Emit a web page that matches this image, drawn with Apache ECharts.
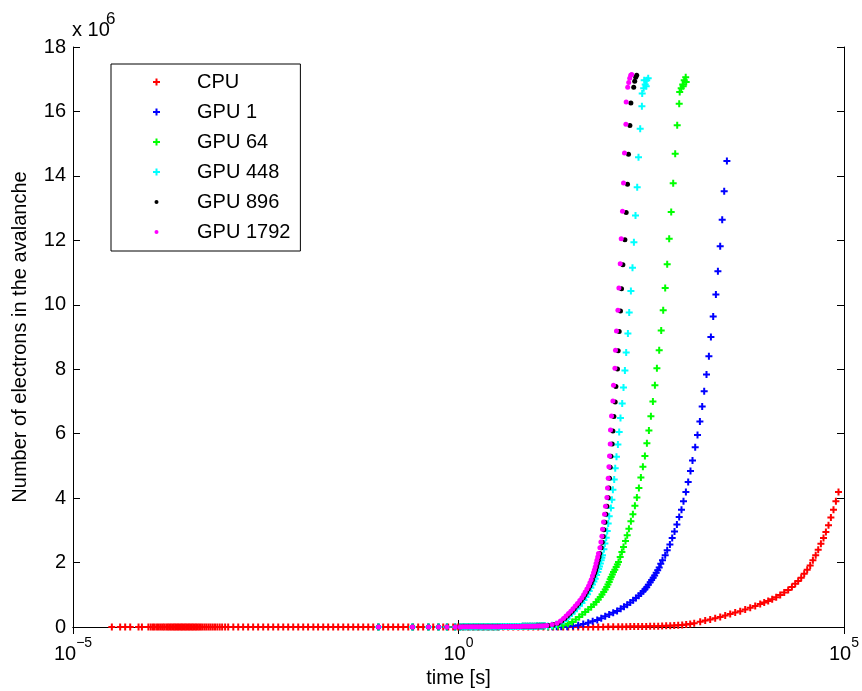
<!DOCTYPE html>
<html>
<head>
<meta charset="utf-8">
<script src="https://cdn.jsdelivr.net/npm/echarts@6.0.0/dist/echarts.min.js"></script>
<style>html,body{margin:0;padding:0;background:#fff}#chart{width:862px;height:691px}</style>
</head>
<body>
<div id="chart"></div>
<script>
// ---- data: [time in s, electrons in millions] ----
const seriesNames = ['CPU', 'GPU 1', 'GPU 64', 'GPU 448', 'GPU 896', 'GPU 1792'];
const yTicks = [0, 2, 4, 6, 8, 10, 12, 14, 16, 18];
const xTickLabels = {'-5': '10^-5', '0': '10^0', '5': '10^5'};

const cpu = [
[3.19e-5,0],[4.09e-5,0],[4.75e-5,0],[5.52e-5,0],[7.08e-5,0],[7.83e-5,0],
[9.5e-5,0],[1.02e-4,0],[1.09e-4,0],[1.15e-4,0],[1.23e-4,0],[1.3e-4,0],[1.38e-4,0],[1.46e-4,0],[1.53e-4,0],[1.62e-4,0],
[1.7e-4,0],[1.78e-4,0],[1.86e-4,0],[1.95e-4,0],[2.03e-4,0],[2.12e-4,0],[2.2e-4,0],[2.3e-4,0],[2.4e-4,0],[2.5e-4,0],
[2.6e-4,0],[2.71e-4,0],[2.82e-4,0],[2.94e-4,0],[3.06e-4,0],[3.19e-4,0],[3.33e-4,0],[3.47e-4,0],[3.62e-4,0],[3.78e-4,0],
[3.95e-4,0],[4.13e-4,0],[4.33e-4,0],[4.55e-4,0],[4.8e-4,0],[5.1e-4,0],[5.4e-4,0],[5.75e-4,0],[6.1e-4,0],[6.5e-4,0],
[6.95e-4,0],[7.45e-4,0],[8.0e-4,0],[8.6e-4,0],[9.4e-4,0],
[1.03e-3,0],[1.2e-3,0],[1.39e-3,0],[1.61e-3,0],[1.87e-3,0],[2.17e-3,0],[2.52e-3,0],[2.93e-3,0],[3.4e-3,0],[3.95e-3,0],
[4.59e-3,0],[5.33e-3,0],[6.18e-3,0],[7.18e-3,0],[8.34e-3,0],[9.68e-3,0],[0.0112,0],[0.0131,0],[0.0151,0],[0.0176,0],
[0.0204,0],[0.0237,0],[0.0275,0],[0.032,0],[0.0371,0],[0.0431,0],[0.05,0],[0.0581,0],[0.0675,0],[0.0783,0],
[0.0909,0],[0.1055,0],[0.1225,0],[0.142,0],[0.165,0],[0.192,0],[0.223,0],[0.258,0],[0.3,0],[0.348,0],
[0.405,0],[0.47,0],[0.546,0],[0.634,0],[0.735,0],[0.854,0],[0.991,0],[1.15,0],[1.34,0],[1.55,0],
[1.8,0],[2.09,0],[2.43,0],[2.82,0],[3.27,0],[3.8,0],[4.41,0],[5.12,0],[5.95,0],[6.91,0],
[8.02,0],[9.31,0],[10.8,0],[12.6,0],[14.6,0],[16.9,0],[19.6,0],[22.8,0],[26.5,0],[30.7,0],
[35.7,0],[41.4,0],[48.1,0],[55.8,0],[64.9,0],[75.3,0.003],[87.5,0.004],[101.6,0.005],[118,0.007],[133,0.008],
[150,0.01],[169,0.012],[190,0.013],[214,0.015],[241,0.017],[272,0.019],[306,0.02],[345,0.023],[389,0.027],[438,0.03],
[494,0.035],[557,0.04],[628,0.047],[707,0.055],[797,0.065],[898,0.075],[1012,0.09],[1141,0.12],
[1364,0.16],[1584,0.20],[1839,0.23],[2135,0.27],[2479,0.31],[2878,0.36],[3342,0.40],[3880,0.45],[4505,0.49],[5229,0.54],
[6073,0.60],[7052,0.65],[8187,0.71],[9226,0.76],[10390,0.81],[11710,0.86],[13200,0.92],[14880,0.99],[16770,1.07],[18890,1.15],
[21100,1.24],[23290,1.34],[25470,1.43],[27860,1.53],[30470,1.65],[33320,1.78],[36440,1.91],[39510,2.07],[42950,2.23],[46290,2.40],
[50170,2.58],[54230,2.76],[58240,2.95],[62950,3.16],[67610,3.40],[73090,3.64],[78520,3.90],[84870,4.19]
];

// early points common to every GPU run
const gpuStart = [
[0.0917,0],[0.253,0],[0.408,0],[0.551,0],[0.707,0],[0.906,0.002],[1.05,0.003],[1.13,0.004],[1.22,0.004],[1.31,0.005],
[1.41,0.005],[1.52,0.006],[1.63,0.006],[1.75,0.007],[1.88,0.007],[2.02,0.008],[2.17,0.008],[2.33,0.009],[2.5,0.009],[2.69,0.01],
[2.89,0.01],[3.1,0.011],[3.33,0.011],[3.58,0.012],[3.85,0.012],[4.13,0.013],[4.44,0.014],[4.77,0.015],[5.12,0.016],[5.5,0.017],
[5.91,0.018],[6.35,0.019],[6.82,0.02],[7.33,0.021],[7.87,0.022],[8.45,0.023],[9.08,0.025],[9.75,0.027],[10.5,0.029],[11.3,0.031],
[12.1,0.034],[13.0,0.037]
];

const gpu1 = [
[14.5,0.005],[16.5,0.007],[18.8,0.008],[21.5,0.009],
[25.7,0.01],[30.5,0.03],[35.7,0.053],[41.5,0.09],[48.1,0.13],[55,0.175],[63.0,0.22],[71,0.275],[79.9,0.33],[90,0.385],
[101.5,0.44],[114,0.50],[127.0,0.565],[140,0.63],[154.2,0.69],[169,0.76],[184.5,0.83],[200,0.90],[217.4,0.97],[232,1.04],
[248.6,1.11],[262,1.17],[276.1,1.23],[290,1.31],[306.5,1.39],[320,1.46],[335.3,1.53],[350,1.60],[366.6,1.68],[383,1.76],
[401.0,1.85],[420,1.96],[442.5,2.07],[479.7,2.23],[509.2,2.38],[552.0,2.56],[591.2,2.76],[633.5,2.96],[680.4,3.18],[728.8,3.41],
[780.5,3.64],[828.4,3.90],[890,4.19],[953,4.50],[1021,4.84],[1084,5.17],[1175,5.58],[1259,5.96],[1352,6.38],[1448,6.84],
[1537,7.32],[1647,7.84],[1769,8.40],[1878,9.00],[2012,9.64],[2180,10.32],[2315,11.04],[2479,11.82],[2632,12.64],[2794,13.52],
[3028,14.46]
];

const gpu64 = [
[14.5,0.01],[16.8,0.02],
[19.5,0.03],[22.8,0.053],[26.2,0.10],[29.8,0.155],[33.2,0.23],[36.8,0.31],[40.3,0.39],[44.0,0.466],[48.2,0.54],[52.6,0.62],
[56.8,0.70],[61.1,0.776],[65.0,0.85],[68.9,0.93],[72.6,1.01],[76.4,1.086],[80.0,1.16],[83.6,1.24],[86.8,1.32],[90.1,1.40],
[92.8,1.48],[95.6,1.55],[99.0,1.63],[102.4,1.71],[106.5,1.78],[111.0,1.86],[115.0,1.94],
[118.9,2.02],[125.1,2.17],[131.6,2.33],[138.1,2.48],[146.6,2.67],[154.2,2.85],[162.3,3.05],[172.2,3.28],[182.8,3.50],[194.1,3.76],
[206.0,4.02],[218.7,4.31],[232.1,4.64],[246.4,4.97],[261.6,5.31],[277.7,5.70],[294.9,6.10],[313.0,6.54],[332.3,7.00],[352.7,7.50],
[374.4,8.03],[401.0,8.59],[425.7,9.20],[451.9,9.83],[479.7,10.52],[509.2,11.26],[540.5,12.05],[573.9,12.88],[609.1,13.77],[646.6,14.69],
[686.6,15.57],[728.8,16.24],
[739.6,16.60],[773.6,16.72],[809,16.84],[821,16.78],[846,16.97],[885,17.06],[898,16.91]
];

const gpu448 = [
[14.4,0.03],
[16.3,0.053],[18.5,0.085],[20.8,0.124],[23.1,0.19],[25.5,0.26],[27.5,0.34],[29.6,0.416],[31.9,0.49],[34.3,0.571],[37.0,0.66],
[39.9,0.745],[42.4,0.84],[44.9,0.93],[47.2,1.02],[49.6,1.12],[52.1,1.22],[54.7,1.32],[57.0,1.41],[59.3,1.50],[61.8,1.61],
[64.3,1.71],[65.8,1.80],[67.4,1.88],[69.1,1.97],[70.9,2.07],[72.3,2.15],
[73.8,2.23],[76.9,2.41],[79.2,2.59],[82.4,2.77],[84.9,2.98],[87.4,3.21],[90.1,3.44],[94.8,3.69],[97.6,3.95],[100.6,4.26],
[104.6,4.58],[107.8,4.93],[112.0,5.28],[116.8,5.66],[121.4,6.05],[126.2,6.49],[132.8,6.94],[138.1,7.43],[144.0,7.96],[149.6,8.52],
[157.5,9.11],[163.7,9.76],[172.2,10.43],[180.6,11.15],[188.4,11.94],[197.6,12.77],[207.9,13.65],[216.1,14.58],[227.3,15.46],[239.2,16.16],
[241.3,16.56],[252.4,16.72],[256.2,16.97],[264.0,16.84],[272.0,16.78],[276.1,16.97],[288.7,17.03]
];

const gpu896 = [
[14.6,0.05],[17.1,0.08],[19.7,0.12],[21.8,0.19],[23.9,0.26],[25.8,0.34],[27.8,0.42],[29.7,0.49],[31.7,0.57],[34.0,0.65],
[36.3,0.73],[38.9,0.82],[41.5,0.91],[43.7,1.00],[45.8,1.09],[48.2,1.18],[50.5,1.27],[52.6,1.37],[54.7,1.47],[56.7,1.58],
[58.7,1.68],[60.1,1.77],[61.7,1.86],[63.2,1.97],[64.9,2.07],[66.5,2.17],[68.0,2.28],
[70.9,2.46],[73.1,2.63],[75.3,2.81],[76.9,3.02],[79.2,3.25],[81.6,3.50],[84.1,3.75],[87.4,4.01],[89.3,4.31],[90.9,4.62],
[92.8,4.96],[94.8,5.30],[98.5,5.68],[100.6,6.08],[103.6,6.53],[107.8,6.98],[110.0,7.46],[115.4,8.01],[117.8,8.57],[121.4,9.17],
[126.2,9.81],[130.1,10.50],[135.6,11.24],[144.0,12.02],[149.6,12.86],[155.6,13.74],[160.3,14.67],[167.1,15.56],[172.2,16.26],
[187.3,16.75],[192.9,16.94],[198.8,17.06],[204.8,17.12]
];

const gpu1792 = [
[14.0,0.05],[16.4,0.08],[18.9,0.12],[21.0,0.19],[23.0,0.26],[24.8,0.34],[26.7,0.42],[28.6,0.49],[30.5,0.57],[32.7,0.65],
[34.9,0.73],[37.4,0.82],[39.9,0.91],[42.0,1.00],[44.0,1.09],[46.3,1.18],[48.6,1.27],[50.6,1.37],[52.6,1.47],[54.5,1.58],
[56.4,1.68],[57.8,1.77],[59.3,1.86],[60.8,1.97],[62.4,2.07],[63.9,2.17],[65.4,2.28],
[68.2,2.46],[70.3,2.64],[72.4,2.82],[73.8,3.03],[76.0,3.26],[78.3,3.50],[80.6,3.75],[84.1,4.02],[85.6,4.31],[87.4,4.62],
[89.3,4.97],[90.9,5.31],[92.8,5.68],[93.6,6.11],[96.5,6.55],[100.6,7.01],[102.4,7.50],[106.8,8.03],[108.7,8.59],[112.0,9.19],
[116.8,9.83],[120.3,10.52],[125.1,11.27],[128.9,12.05],[134.0,12.90],[138.1,13.78],[142.2,14.71],[148.3,15.60],[149.6,16.29],
[156.5,16.75],[161.3,16.90],[166.2,17.03],[171.2,17.12],[176.4,17.15]
];

// ---- styling ----
const FONT = 'Liberation Sans, Arial, Helvetica, sans-serif';
const PLUS = 'path://M2.5,0H4.5V2.5H7V4.5H4.5V7H2.5V4.5H0V2.5H2.5Z';
const DOT_ICON = 'path://M0,0M7,7M3.5,1.5A2,2,0,1,1,3.5,5.5A2,2,0,1,1,3.5,1.5Z';

function scatter(name, data, color, symbol, size) {
  return {
    type: 'scatter', name: name, data: data,
    symbol: symbol, symbolSize: size,
    itemStyle: {color: color, opacity: 1},
    emphasis: {disabled: true}, silent: true, animation: false
  };
}

function xLabel(v) {
  const e = String(Math.round(Math.log10(v)));
  const lab = xTickLabels[e] || ('10^' + e);
  const parts = lab.split('^');
  return '{b|' + parts[0] + '}{e|' + parts[1].replace('-', '\u2212') + '}';
}

const axisBlack = {lineStyle: {color: '#000', width: 1}};
const chart = echarts.init(document.getElementById('chart'), null, {renderer: 'canvas'});
chart.setOption({
  backgroundColor: '#fff',
  animation: false,
  textStyle: {fontFamily: FONT},
  grid: {left: 73, right: 18, top: 47, bottom: 64, containLabel: false, outerBoundsMode: 'none'},
  xAxis: [{
    type: 'log', logBase: 100000, min: 1e-5, max: 1e5, splitNumber: 2, position: 'bottom',
    axisLine: Object.assign({show: true}, axisBlack),
    axisTick: {show: true, inside: true, length: 7, lineStyle: {color: '#000'}},
    minorTick: {show: false}, splitLine: {show: false},
    axisLabel: {
      show: true, margin: 9, showMinLabel: true, showMaxLabel: true, color: '#000',
      formatter: xLabel,
      rich: {
        b: {fontSize: 20, fontFamily: FONT, color: '#000', verticalAlign: 'bottom', lineHeight: 28},
        e: {fontSize: 14, fontFamily: FONT, color: '#000', verticalAlign: 'top', lineHeight: 14}
      }
    },
    name: 'time [s]', nameLocation: 'middle', nameGap: 30,
    nameTextStyle: {fontSize: 20, color: '#000', fontFamily: FONT}
  }, {
    type: 'log', logBase: 100000, min: 1e-5, max: 1e5, splitNumber: 2, position: 'top',
    axisLine: Object.assign({show: true}, axisBlack),
    axisTick: {show: true, inside: true, length: 7, lineStyle: {color: '#000'}},
    minorTick: {show: false}, splitLine: {show: false}, axisLabel: {show: false}
  }],
  yAxis: [{
    type: 'value', min: yTicks[0], max: yTicks[yTicks.length - 1], interval: yTicks[1] - yTicks[0], position: 'left',
    axisLine: Object.assign({show: true}, axisBlack),
    axisTick: {show: true, inside: true, length: 7, lineStyle: {color: '#000'}},
    splitLine: {show: false},
    axisLabel: {show: true, margin: 7, fontSize: 20, color: '#000', fontFamily: FONT},
    name: 'Number of electrons in the avalanche', nameLocation: 'middle', nameGap: 43, nameRotate: 90,
    nameTextStyle: {fontSize: 20, color: '#000', fontFamily: FONT}
  }, {
    type: 'value', min: yTicks[0], max: yTicks[yTicks.length - 1], interval: yTicks[1] - yTicks[0], position: 'right',
    axisLine: Object.assign({show: true}, axisBlack),
    axisTick: {show: true, inside: true, length: 7, lineStyle: {color: '#000'}},
    splitLine: {show: false}, axisLabel: {show: false}
  }],
  legend: {
    show: true, orient: 'vertical', left: 111, top: 64,
    padding: [8, 10, 9, 42], itemGap: 10, itemWidth: 7, itemHeight: 7,
    backgroundColor: '#fff', borderColor: '#000', borderWidth: 1, borderRadius: 0,
    selectedMode: false,
    textStyle: {fontSize: 20, color: '#000', fontFamily: FONT, lineHeight: 20, padding: [0, 0, 0, 32]},
    data: [
      {name: seriesNames[0]}, {name: seriesNames[1]}, {name: seriesNames[2]}, {name: seriesNames[3]},
      {name: seriesNames[4], icon: DOT_ICON}, {name: seriesNames[5], icon: DOT_ICON}
    ]
  },
  graphic: [
    {type: 'text', left: 72, top: 20, style: {text: 'x 10', fontSize: 20, fontFamily: FONT, fill: '#000'}},
    {type: 'text', left: 106, top: 11, style: {text: '6', fontSize: 17, fontFamily: FONT, fill: '#000'}}
  ],
  series: [
    scatter(seriesNames[0], cpu, '#ff0000', PLUS, 7),
    scatter(seriesNames[1], gpuStart.concat(gpu1), '#0000ff', PLUS, 7),
    scatter(seriesNames[2], gpuStart.concat(gpu64), '#00ff00', PLUS, 7),
    scatter(seriesNames[3], gpuStart.concat(gpu448), '#00ffff', PLUS, 7),
    scatter(seriesNames[4], gpuStart.concat(gpu896), '#000000', 'circle', 5),
    scatter(seriesNames[5], gpuStart.concat(gpu1792), '#ff00ff', 'circle', 5)
  ]
});
</script>
</body>
</html>
